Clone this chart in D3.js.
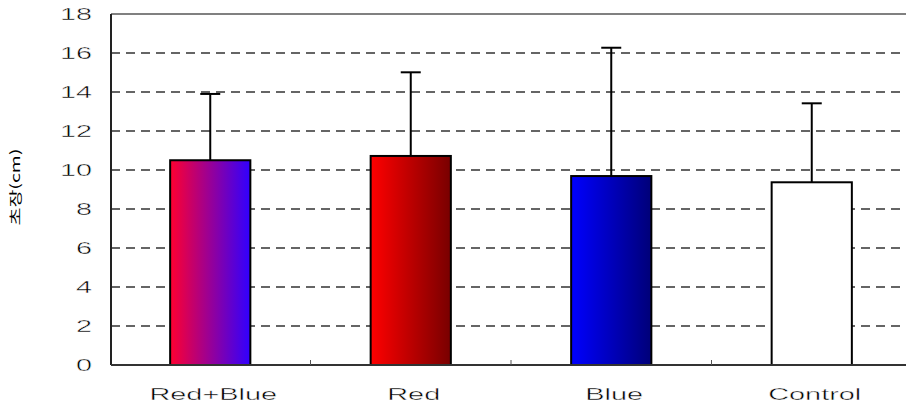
<!DOCTYPE html>
<html><head><meta charset="utf-8">
<script src="https://cdn.jsdelivr.net/npm/d3@7"></script>
<style>body{margin:0;background:#fff}svg{display:block}</style>
</head><body>
<script>
const categories = ["Red+Blue", "Red", "Blue", "Control"];
const means = [10.5, 10.72, 9.69, 9.37];
const errors = [3.4, 4.29, 6.58, 4.05];
const yTicks = [0, 2, 4, 6, 8, 10, 12, 14, 16, 18];
const yLabel = "초장(cm)";
const gradients = [["#ff0030", "#3000ff"], ["#ff0000", "#780000"], ["#0000ff", "#000078"], ["#ffffff", "#ffffff"]];

(function () {
const W = 906, H = 409;
const svg = d3.select("body").append("svg").attr("width", W).attr("height", H);
const pL = 111, pT = 14, pB = 365, pR = 912;
const y = d3.scaleLinear().domain([0, 18]).range([pB, pT]);
const x = d3.scaleBand().domain(categories).range([110, 912]).paddingInner(0.6).paddingOuter(0.3);

const defs = svg.append("defs");
gradients.forEach((g, i) => {
  const lg = defs.append("linearGradient").attr("id", "g" + i).attr("x1", "0").attr("x2", "1").attr("y1", "0").attr("y2", "0");
  lg.append("stop").attr("offset", "0").attr("stop-color", g[0]);
  lg.append("stop").attr("offset", "1").attr("stop-color", g[1]);
});

// gridlines
svg.append("g").selectAll("line").data(yTicks.filter(t => t > 0 && t < 18)).join("line")
  .attr("x1", pL).attr("x2", pR).attr("y1", d => y(d)).attr("y2", d => y(d))
  .attr("stroke", "#333").attr("stroke-width", 1.3).attr("stroke-dasharray", "9,6");
svg.append("line").attr("x1", pL).attr("x2", pR).attr("y1", y(18)).attr("y2", y(18))
  .attr("stroke", "#808080").attr("stroke-width", 2);

const thin = sel => sel.attr("stroke", "#fff").attr("stroke-width", 0.4).attr("fill", "#000");

// y axis
const yAxis = svg.append("g").attr("transform", `translate(${pL},0)`)
  .call(d3.axisLeft(y).tickValues(yTicks).tickSize(0).tickPadding(0));
yAxis.select(".domain").remove();
yAxis.selectAll(".tick").attr("transform", null);
yAxis.selectAll("text").attr("font-family", "Liberation Sans, Arial, sans-serif").attr("font-size", 16)
  .attr("text-anchor", "end").attr("dy", "0.36em").attr("x", 0).attr("y", 0)
  .attr("transform", d => `translate(-19,${y(d)}) scale(1.8,1)`).call(thin);

// bars
svg.append("g").selectAll("rect").data(categories).join("rect")
  .attr("x", d => x(d)).attr("width", x.bandwidth())
  .attr("y", (d, i) => y(means[i])).attr("height", (d, i) => y(0) - y(means[i]))
  .attr("fill", (d, i) => `url(#g${i})`).attr("stroke", "#000").attr("stroke-width", 2);

// error bars
const eb = svg.append("g").attr("stroke", "#000").attr("stroke-width", 2);
categories.forEach((c, i) => {
  const cx = x(c) + x.bandwidth() / 2;
  eb.append("line").attr("x1", cx).attr("x2", cx).attr("y1", y(means[i])).attr("y2", y(means[i] + errors[i]));
  eb.append("line").attr("x1", cx - 10).attr("x2", cx + 10).attr("y1", y(means[i] + errors[i])).attr("y2", y(means[i] + errors[i]));
});

// axes lines
svg.append("line").attr("x1", pL).attr("x2", pL).attr("y1", pT).attr("y2", pB).attr("stroke", "#222").attr("stroke-width", 2);
svg.append("line").attr("x1", pL).attr("x2", pR).attr("y1", pB).attr("y2", pB).attr("stroke", "#333").attr("stroke-width", 2);

// category separator ticks
const step = x.step();
svg.append("g").selectAll("line").data(categories.slice(1)).join("line")
  .attr("x1", d => x(d) - (step - x.bandwidth()) / 2).attr("x2", d => x(d) - (step - x.bandwidth()) / 2)
  .attr("y1", pB).attr("y2", pB - 5).attr("stroke", "#555").attr("stroke-width", 1);

// category labels
svg.append("g").selectAll("text").data(categories).join("text")
  .attr("transform", d => `translate(${x(d) + x.bandwidth() / 2 + 3},400) scale(1.7,1)`)
  .attr("text-anchor", "middle").attr("font-family", "Liberation Sans, Arial, sans-serif")
  .attr("font-size", 17).text(d => d).call(thin);

// y label
svg.append("text").attr("transform", "translate(20,187) rotate(-90) scale(1.5,1)")
  .attr("text-anchor", "middle").attr("font-family", "Noto Sans CJK KR, sans-serif")
  .attr("font-size", 13).attr("fill", "#000").text(yLabel);
})();
</script>
</body></html>
